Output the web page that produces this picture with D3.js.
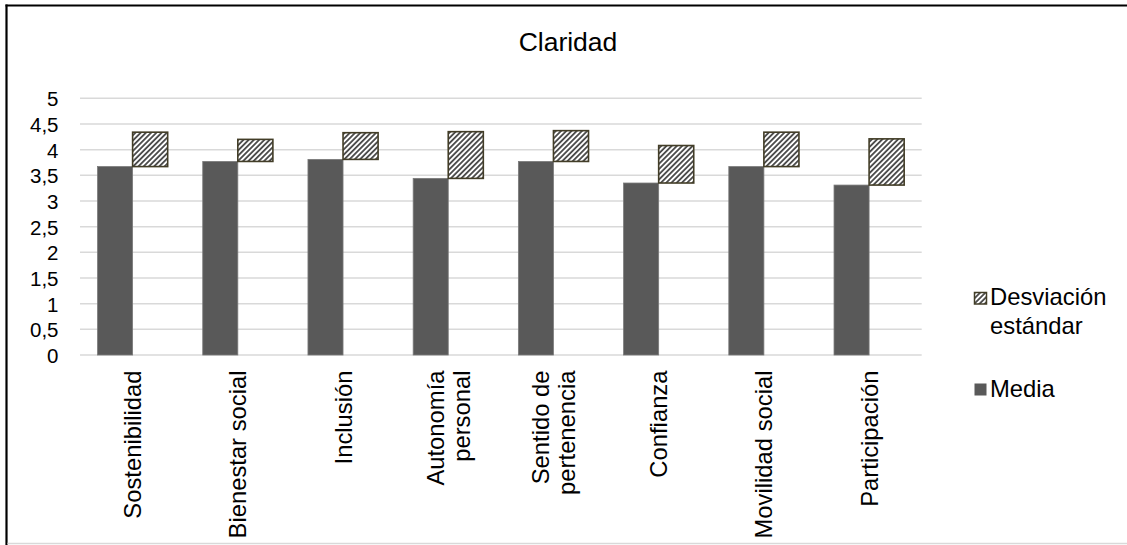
<!DOCTYPE html>
<html>
<head>
<meta charset="utf-8">
<script src="https://cdn.jsdelivr.net/npm/d3@7"></script>
<style>
  html, body { margin: 0; padding: 0; background: #fff; }
  svg { display: block; font-family: "Liberation Sans", Arial, sans-serif; }
</style>
</head>
<body>
<svg id="chart" width="1127" height="545"></svg>
<script>
// Dimension names and their axis labels (split into lines)
const categories = ["Sostenibilidad", "Bienestar social", "Inclusión", "Autonomía personal",
                    "Sentido de pertenencia", "Confianza", "Movilidad social", "Participación"];
const categoryLines = [["Sostenibilidad"], ["Bienestar social"], ["Inclusión"], ["Autonomía", "personal"],
                       ["Sentido de", "pertenencia"], ["Confianza"], ["Movilidad social"], ["Participación"]];
// Mean score per dimension
const media = [3.67, 3.77, 3.81, 3.44, 3.77, 3.35, 3.67, 3.31];
// Standard deviation per dimension (drawn as a floating box above the mean)
const desviacion = [0.67, 0.43, 0.52, 0.91, 0.60, 0.73, 0.67, 0.90];
const yTicks = [0, 0.5, 1, 1.5, 2, 2.5, 3, 3.5, 4, 4.5, 5];
const seriesNames = ["Media", "Desviación estándar"];

const svg = d3.select("#chart");
const W = 1127, H = 545;
const plot = { left: 80, right: 921.7, top: 98.3, bottom: 355 };

const defs = svg.append("defs");
const pw = 3.7;
const pat = defs.append("pattern")
  .attr("id", "hatch")
  .attr("patternUnits", "userSpaceOnUse")
  .attr("width", pw).attr("height", pw)
  .attr("patternTransform", "rotate(45)");
pat.append("rect").attr("width", pw).attr("height", pw).attr("fill", "#ffffff");
pat.append("rect").attr("x", 0).attr("y", 0).attr("width", pw / 2).attr("height", pw).attr("fill", "#4d4d4d");

// Frame
svg.append("line").attr("x1", 5.5).attr("x2", W).attr("y1", 5.5).attr("y2", 5.5)
  .attr("stroke", "#000").attr("stroke-width", 2.2);
svg.append("line").attr("x1", 6.5).attr("x2", 6.5).attr("y1", 4.5).attr("y2", H)
  .attr("stroke", "#000").attr("stroke-width", 2.2);
svg.append("line").attr("x1", 7.5).attr("x2", W).attr("y1", 543.5).attr("y2", 543.5)
  .attr("stroke", "#d9d9d9").attr("stroke-width", 1.5);

const x = d3.scaleBand().domain(categories).range([plot.left, plot.right])
  .paddingInner(1 / 3).paddingOuter(1 / 6);
const xs = d3.scaleBand().domain(seriesNames).range([0, x.bandwidth()]).padding(0);
const y = d3.scaleLinear().domain([0, 5]).range([plot.bottom, plot.top]);

// Gridlines
svg.append("g").selectAll("line").data(yTicks).join("line")
  .attr("x1", plot.left).attr("x2", plot.right)
  .attr("y1", d => y(d)).attr("y2", d => y(d))
  .attr("stroke", "#d9d9d9").attr("stroke-width", 1.5);

// Y axis labels
const yAxis = d3.axisLeft(y).tickValues(yTicks).tickSize(0).tickPadding(0)
  .tickFormat(d => String(d).replace(".", ","));
const yg = svg.append("g").attr("transform", `translate(${58.5},0)`).call(yAxis);
yg.select(".domain").remove();
yg.selectAll("text").attr("font-size", 20.5).attr("fill", "#000")
  .attr("font-family", "Liberation Sans, Arial, sans-serif").attr("dy", "0.37em");

// Mean bars
svg.append("g").selectAll("rect").data(categories).join("rect")
  .attr("x", (d) => x(d) + xs("Media"))
  .attr("width", xs.bandwidth())
  .attr("y", (d, i) => y(media[i]))
  .attr("height", (d, i) => y(0) - y(media[i]))
  .attr("fill", "#595959")
  .attr("stroke", "#7a7a7a").attr("stroke-width", 0.8);

// Standard deviation boxes, floating from the mean upward
svg.append("g").selectAll("rect").data(categories).join("rect")
  .attr("x", (d) => x(d) + xs("Desviación estándar"))
  .attr("width", xs.bandwidth())
  .attr("y", (d, i) => y(media[i] + desviacion[i]))
  .attr("height", (d, i) => y(media[i]) - y(media[i] + desviacion[i]))
  .attr("fill", "url(#hatch)")
  .attr("stroke", "#423d27").attr("stroke-width", 1.6);

// Category labels, rotated
const labelSize = 23.8, lineH = 25.5, capH = 0.716 * labelSize;
const lg = svg.append("g");
categories.forEach((c, i) => {
  const cx = x(c) + x.bandwidth() / 2;
  const lines = categoryLines[i];
  const t = lg.append("text")
    .attr("transform", `translate(${cx},${370.5}) rotate(-90)`)
    .attr("text-anchor", "end")
    .attr("font-size", labelSize).attr("fill", "#000");
  lines.forEach((ln, j) => {
    t.append("tspan").attr("x", 0)
      .attr("y", capH / 2 + (j - (lines.length - 1) / 2) * lineH)
      .text(ln);
  });
});

// Title
svg.append("text").attr("x", 568).attr("y", 50.5).attr("text-anchor", "middle")
  .attr("font-size", 26.5).attr("fill", "#000").text("Claridad");

// Legend
const leg = svg.append("g");
leg.append("rect").attr("x", 974.5).attr("y", 292.5).attr("width", 12).attr("height", 11.5)
  .attr("fill", "url(#hatch)").attr("stroke", "#423d27").attr("stroke-width", 1.5);
leg.append("text").attr("x", 990).attr("y", 305).attr("font-size", 23.8).attr("fill", "#000")
  .selectAll("tspan").data(["Desviación", "estándar"]).join("tspan")
  .attr("x", 990).attr("dy", (d, i) => i === 0 ? 0 : 28.5).text(d => d);
leg.append("rect").attr("x", 974.5).attr("y", 383.5).attr("width", 12).attr("height", 12)
  .attr("fill", "#595959");
leg.append("text").attr("x", 990).attr("y", 396.7).attr("font-size", 23.8).attr("fill", "#000")
  .text("Media");
</script>
</body>
</html>
